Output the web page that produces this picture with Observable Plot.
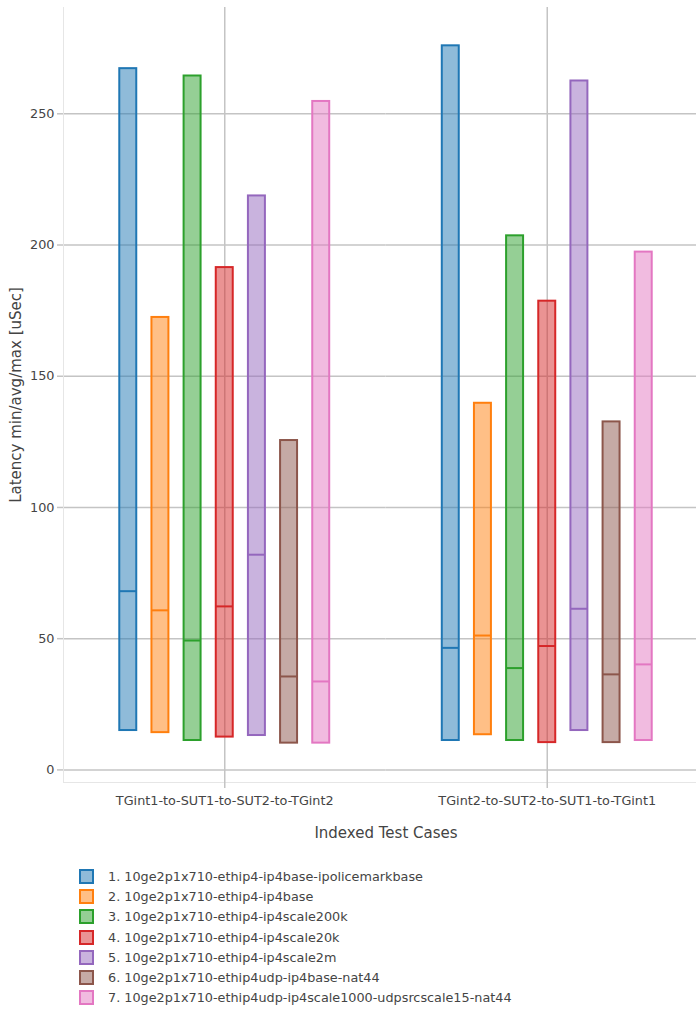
<!DOCTYPE html>
<html>
<head>
<meta charset="utf-8">
<script src="https://cdn.jsdelivr.net/npm/d3@7"></script>
<script src="https://cdn.jsdelivr.net/npm/@observablehq/plot@0.6"></script>
<style>
  html, body { margin: 0; padding: 0; background: #fff; overflow: hidden; }
  #wrap { width: 696px; overflow: hidden; }
  #chart svg { display: block; max-width: none !important; width: 708px; height: 850px; }
  #legend { padding: 16px 0 0 79px; font-family: "DejaVu Sans", sans-serif; font-size: 12.8px; color: #444; }
  .row { height: 20.3px; display: flex; align-items: center; }
  .sw { width: 11px; height: 11px; border: 2px solid; margin-right: 14px; box-sizing: content-box; }
</style>
</head>
<body>
<div id="wrap"><div id="chart"></div><div id="legend"></div></div>
<script>
const testCases = ["TGint1-to-SUT1-to-SUT2-to-TGint2", "TGint2-to-SUT2-to-SUT1-to-TGint1"];
const series = [
  "1. 10ge2p1x710-ethip4-ip4base-ipolicemarkbase",
  "2. 10ge2p1x710-ethip4-ip4base",
  "3. 10ge2p1x710-ethip4-ip4scale200k",
  "4. 10ge2p1x710-ethip4-ip4scale20k",
  "5. 10ge2p1x710-ethip4-ip4scale2m",
  "6. 10ge2p1x710-ethip4udp-ip4base-nat44",
  "7. 10ge2p1x710-ethip4udp-ip4scale1000-udpsrcscale15-nat44"
];
const colors = ["#1f77b4", "#ff7f0e", "#2ca02c", "#d62728", "#9467bd", "#8c564b", "#e377c2"];
// values per test case, one entry per series
const minCase1 = [15.0, 14.2, 11.2, 12.5, 13.1, 10.2, 10.2];
const avgCase1 = [68.1, 60.8, 49.3, 62.3, 82.0, 35.6, 33.7];
const maxCase1 = [267.2, 172.4, 264.4, 191.4, 218.7, 125.5, 254.7];
const minCase2 = [11.2, 13.4, 11.2, 10.4, 15.0, 10.4, 11.2];
const avgCase2 = [46.5, 51.2, 38.8, 47.2, 61.4, 36.4, 40.2];
const maxCase2 = [275.9, 139.7, 203.5, 178.6, 262.5, 132.6, 197.3];
const yTicks = [0, 50, 100, 150, 200, 250];

const mins = [minCase1, minCase2], avgs = [avgCase1, avgCase2], maxs = [maxCase1, maxCase2];
const rows = [];
testCases.forEach((t, i) => series.forEach((s, j) => rows.push({test: t, series: s, min: mins[i][j], avg: avgs[i][j], max: maxs[i][j]})));

const grid = "#c4c4c4";
const chart = Plot.plot({
  width: 708, height: 850,
  marginLeft: 63, marginRight: 0, marginTop: 7, marginBottom: 68,
  style: {fontFamily: "DejaVu Sans, sans-serif", fontSize: "12.8px", color: "#444", background: "#fff"},
  fx: {domain: testCases, padding: 0, round: false, axis: null},
  x: {domain: series, paddingInner: 0.472, paddingOuter: 1.75, round: false, axis: null},
  y: {domain: [-4.8, 290.5], axis: null},
  color: {domain: series, range: colors},
  marks: [
    Plot.gridY({ticks: yTicks, stroke: grid, strokeOpacity: 1, strokeWidth: 1.5}),
    Plot.gridFx({stroke: grid, strokeOpacity: 1, strokeWidth: 1.5}),
    Plot.frame({anchor: "bottom", stroke: "#e6e6e6"}),
    Plot.frame({anchor: "left", facetAnchor: "left", stroke: "#e6e6e6"}),
    Plot.barY(rows, {fx: "test", x: "series", y1: "min", y2: "max", fill: "series", fillOpacity: 0.5, stroke: "series", strokeWidth: 2}),
    Plot.tickY(rows, {fx: "test", x: "series", y: "avg", stroke: "series", strokeWidth: 2}),
    Plot.axisY({ticks: yTicks, tickSize: 6, tickPadding: 3, stroke: grid, strokeWidth: 1.5, fill: "#444", label: null}),
    Plot.axisY({ticks: [], label: "Latency min/avg/max [uSec]", labelAnchor: "center", labelOffset: 53, labelArrow: "none", fontSize: 15, fill: "#444"}),
    Plot.axisFx({anchor: "bottom", tickSize: 6, tickPadding: 7, stroke: grid, strokeWidth: 1.5, fill: "#444", label: null}),
    Plot.axisFx({anchor: "bottom", ticks: [], label: "Indexed Test Cases", labelAnchor: "center", labelOffset: 55, labelArrow: "none", fontSize: 15, fill: "#444"})
  ]
});
document.getElementById("chart").appendChild(chart);

const legend = document.getElementById("legend");
series.forEach((s, i) => {
  const r = document.createElement("div");
  r.className = "row";
  const sw = document.createElement("div");
  sw.className = "sw";
  sw.style.borderColor = colors[i];
  sw.style.background = d3.color(colors[i]).copy({opacity: 0.5}).formatRgb();
  const tx = document.createElement("span");
  tx.textContent = s;
  r.appendChild(sw); r.appendChild(tx);
  legend.appendChild(r);
});
</script>
</body>
</html>
